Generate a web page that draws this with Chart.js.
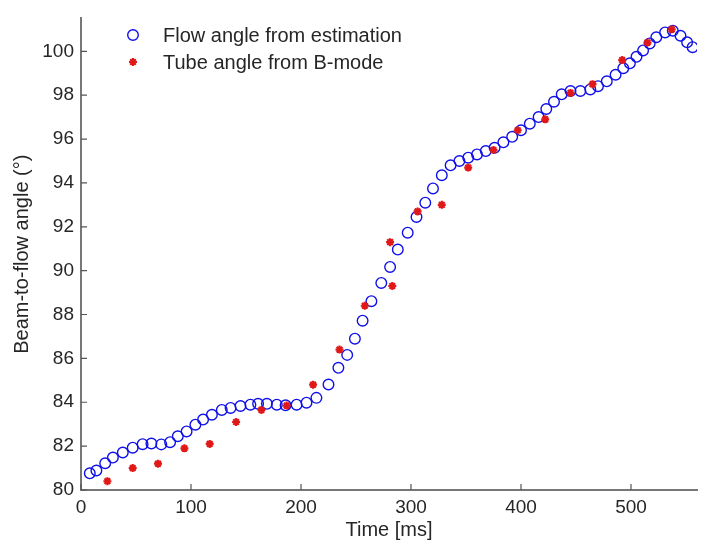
<!DOCTYPE html>
<html>
<head>
<meta charset="utf-8">
<script src="https://cdn.jsdelivr.net/npm/chart.js@4/dist/chart.umd.min.js"></script>
<style>
  html, body { margin: 0; padding: 0; background: #fff; }
  #wrap { width: 704px; height: 550px; }
</style>
</head>
<body>
<div id="wrap"><canvas id="myChart" width="704" height="550"></canvas></div>
<script>
// flow angle from estimation (blue circles)
var flowTime  = [8, 14, 22, 29, 38, 47, 56, 64, 73, 81, 88, 96, 104, 111, 119, 128, 136, 145, 154, 161,
                 169, 178, 186, 196, 205, 214, 225, 234, 242, 249, 256, 264, 273, 281, 288, 297, 305, 313, 320, 328,
                 336, 344, 352, 360, 368, 376, 384, 392, 400, 408, 416, 423, 430, 437, 445, 454, 463, 470, 478, 486,
                 493, 499, 505, 511, 517, 523, 531, 538, 545, 551, 556];
var flowAngle = [80.76, 80.89, 81.22, 81.48, 81.71, 81.93, 82.09, 82.12, 82.08, 82.18, 82.45, 82.67, 82.98, 83.21, 83.43, 83.65, 83.74, 83.83, 83.89, 83.93,
                 83.93, 83.89, 83.86, 83.89, 83.98, 84.2, 84.81, 85.57, 86.16, 86.9, 87.72, 88.61, 89.44, 90.17, 90.96, 91.73, 92.45, 93.1, 93.75, 94.35,
                 94.8, 95.0, 95.15, 95.3, 95.45, 95.6, 95.85, 96.1, 96.4, 96.7, 97.0, 97.37, 97.7, 98.04, 98.19, 98.19, 98.26, 98.41, 98.63, 98.93,
                 99.23, 99.45, 99.75, 100.04, 100.36, 100.64, 100.86, 100.94, 100.71, 100.41, 100.19];

// tube angle from B-mode (red stars)
var tubeTime  = [24, 47, 70, 94, 117, 141, 164, 187, 211, 235, 258, 281, 283, 306, 328, 352, 375, 397, 422, 445, 465, 492, 515, 537];
var tubeAngle = [80.4, 81.0, 81.2, 81.9, 82.1, 83.1, 83.65, 83.85, 84.8, 86.4, 88.4, 91.3, 89.3, 92.7, 93.0, 94.7, 95.5, 96.4, 96.9, 98.1, 98.5, 99.6, 100.4, 101.0];

var seriesLabels = ['Flow angle from estimation', 'Tube angle from B-mode'];
var xAxisTitle = 'Time [ms]';
var yAxisTitle = 'Beam-to-flow angle (\u00B0)';

function toPoints(xs, ys) {
  return xs.map(function (x, i) { return { x: x, y: ys[i] }; });
}

var FONT = 'Liberation Sans, Arial, sans-serif';
var TXT = '#262626';

// matlab style ticks pointing into the plot
var inwardTicks = {
  id: 'inwardTicks',
  afterDraw: function (chart) {
    var ctx = chart.ctx, a = chart.chartArea;
    var xs = chart.scales.x, ys = chart.scales.y;
    ctx.save();
    ctx.strokeStyle = '#555';
    ctx.lineWidth = 1.2;
    ctx.beginPath();
    xs.ticks.forEach(function (t) {
      var px = xs.getPixelForValue(t.value);
      ctx.moveTo(px, a.bottom); ctx.lineTo(px, a.bottom - 6);
    });
    ys.ticks.forEach(function (t) {
      var py = ys.getPixelForValue(t.value);
      ctx.moveTo(a.left, py); ctx.lineTo(a.left + 6, py);
    });
    ctx.stroke();
    ctx.restore();
  }
};

// legend in the top left corner of the axes
var cornerLegend = {
  id: 'cornerLegend',
  afterDraw: function (chart) {
    var ctx = chart.ctx;
    ctx.save();
    ctx.font = '20px ' + FONT;
    ctx.fillStyle = TXT;
    ctx.textBaseline = 'middle';
    ctx.textAlign = 'left';
    chart.data.datasets.forEach(function (ds, i) {
      var y = 35 + i * 27;
      ctx.strokeStyle = ds.borderColor;
      ctx.fillStyle = ds.backgroundColor;
      ctx.lineWidth = ds.borderWidth;
      Chart.helpers.drawPoint(ctx, { pointStyle: ds.pointStyle, radius: ds.pointRadius, borderWidth: ds.borderWidth }, 133, y);
      ctx.fillStyle = TXT;
      ctx.fillText(ds.label, 163, y + 1);
    });
    ctx.restore();
  }
};

var ctx = document.getElementById('myChart').getContext('2d');
var chart = new Chart(ctx, {
  type: 'scatter',
  data: {
    datasets: [{
      label: seriesLabels[0],
      data: toPoints(flowTime, flowAngle),
      pointStyle: 'circle',
      pointRadius: 5.3,
      borderWidth: 1.4,
      borderColor: '#1010e8',
      backgroundColor: 'rgba(0,0,0,0)',
      order: 1
    }, {
      label: seriesLabels[1],
      data: toPoints(tubeTime, tubeAngle),
      pointStyle: 'star',
      pointRadius: 4,
      borderWidth: 2.2,
      borderColor: '#e01818',
      backgroundColor: '#e01818',
      order: 0
    }]
  },
  options: {
    responsive: false,
    animation: false,
    layout: { padding: { top: 7, right: 7, left: 0, bottom: 0 } },
    plugins: {
      legend: { display: false },
      tooltip: { enabled: false }
    },
    scales: {
      x: {
        type: 'linear',
        min: 0,
        max: 560,
        afterFit: function (s) { s.height = 60; },
        afterBuildTicks: function (s) {
          s.ticks = s.ticks.filter(function (t) { return t.value % 100 === 0; });
        },
        grid: { display: false, drawTicks: false },
        border: { display: true, color: '#777', width: 2 },
        ticks: { stepSize: 100, padding: 6, color: TXT, font: { family: FONT, size: 19 } },
        title: { display: true, text: xAxisTitle, color: TXT, font: { family: FONT, size: 20 }, padding: { top: 0, bottom: 8 } }
      },
      y: {
        type: 'linear',
        min: 80,
        max: 101.5,
        afterFit: function (s) { s.width = 81; },
        afterBuildTicks: function (s) {
          s.ticks = s.ticks.filter(function (t) { return t.value % 2 === 0; });
        },
        grid: { display: false, drawTicks: false },
        border: { display: true, color: '#777', width: 2 },
        ticks: { stepSize: 2, padding: 7, color: TXT, font: { family: FONT, size: 19 } },
        title: { display: true, text: yAxisTitle, color: TXT, font: { family: FONT, size: 20 }, padding: { top: 10, bottom: 0 } }
      }
    }
  },
  plugins: [inwardTicks, cornerLegend]
});
</script>
</body>
</html>
